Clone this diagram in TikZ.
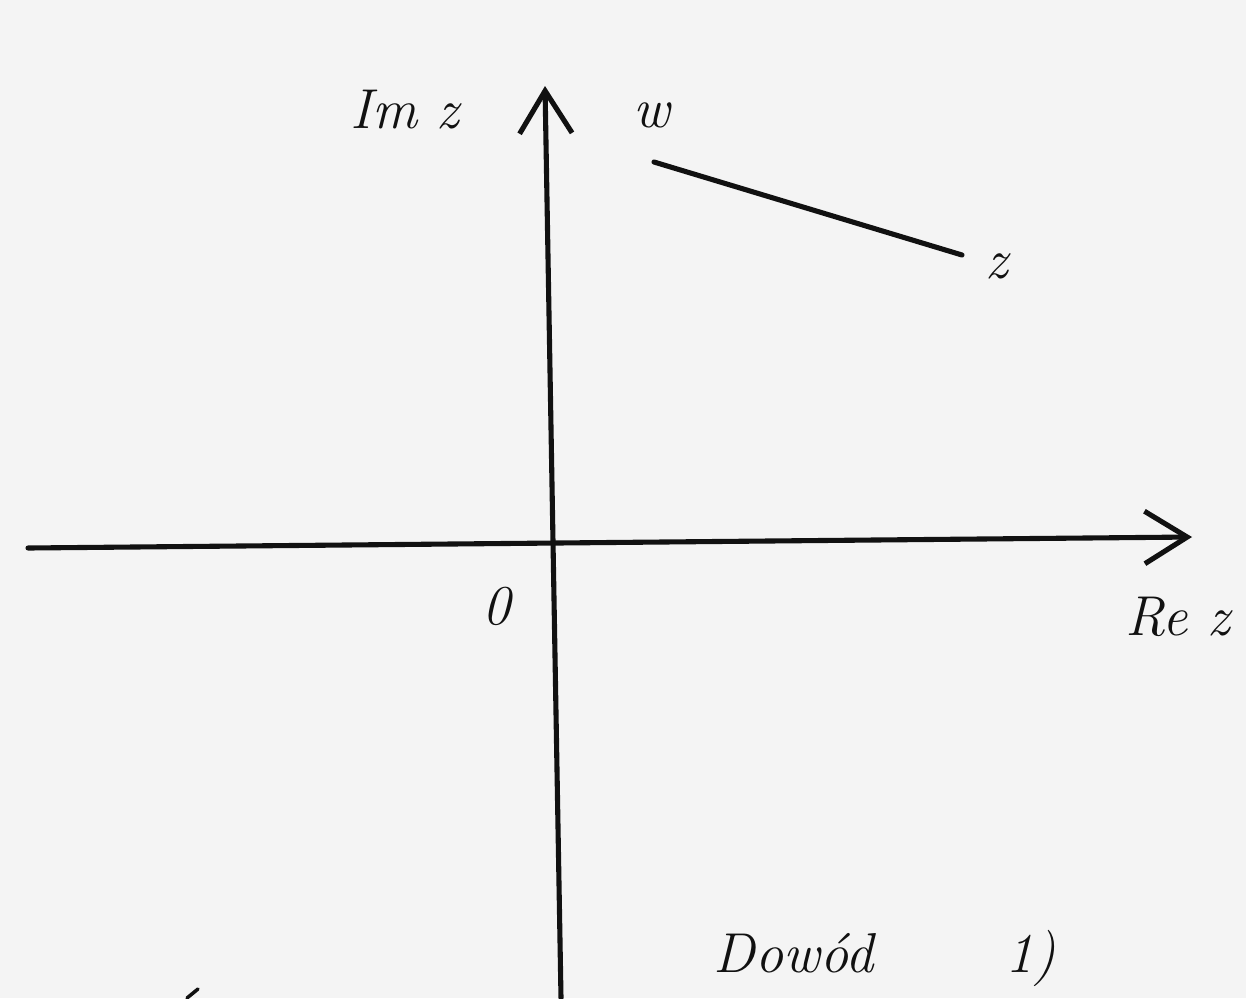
\documentclass[tikz,border=0pt]{standalone}
\usetikzlibrary{arrows.meta}
\definecolor{bg}{HTML}{F4F4F4}
\definecolor{ink}{HTML}{111111}
\begin{document}
\begin{tikzpicture}[x=0.02cm,y=-0.02cm,
  stroke/.style={draw=ink,line width=2.9pt,line cap=round},
  axis/.style={stroke,-{Straight Barb[length=0.85cm,width=1.05cm,line width=2.9pt]}},
  lbl/.style={text=ink,font=\fontsize{32}{36}\selectfont\itshape,inner sep=0pt}]
\fill[bg] (0,0) rectangle (1246,998);
\useasboundingbox (0,0) rectangle (1246,998);
% axes
\coordinate (ybot) at (561,998);
\coordinate (ytop) at (545,86);
\coordinate (xl) at (28,548);
\coordinate (xr) at (1192,537);
\draw[axis] (ybot) -- (ytop);
\draw[axis] (xl) -- (xr);
% segment w--z
\coordinate (w) at (654,162);
\coordinate (z) at (962,255);
\draw[stroke] (w) -- (z);
% labels
\node[lbl] (imz) at (405,110) {Im z};
\node[lbl] (wl) at (652,115) {w};
\node[lbl] (zl) at (997,266) {z};
\node[lbl] (o) at (497,606) {0};
\node[lbl] (rez) at (1178,617) {Re z};
\node[lbl] (dow) at (885,958) {Dowód \qquad 1)};
% stray mark bottom-left
\coordinate (m1) at (187,998);
\coordinate (m2) at (198,989);
\draw[stroke,line width=2pt] (m1) -- (m2);
\end{tikzpicture}
\end{document}
